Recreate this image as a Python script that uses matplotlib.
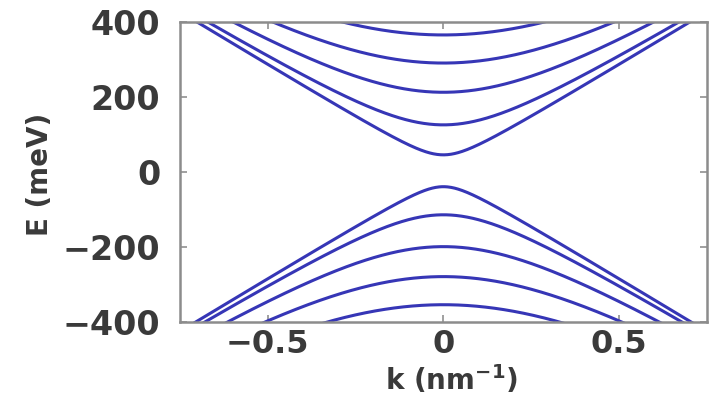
import numpy as np
import matplotlib
matplotlib.use("Agg")
import matplotlib.pyplot as plt

# subband edges at k = 0 (meV)
conduction_edges = [45, 125, 212, 290, 365]
valence_edges = [-40, -115, -200, -280, -355]
# asymptotic slope of the dispersion (meV nm)
velocity = 566

x_ticks = [-0.5, 0, 0.5]
x_tick_labels = ["\u22120.5", "0", "0.5"]
y_ticks = [-400, -200, 0, 200, 400]
y_tick_labels = ["\u2212400", "\u2212200", "0", "200", "400"]

k = np.linspace(-0.8, 0.8, 801)

fig = plt.figure(figsize=(7.14, 3.97), dpi=100)
ax = fig.add_axes([0.252, 0.19, 0.738, 0.755])

line_color = "#3636b6"
for e0 in conduction_edges:
    ax.plot(k, np.sqrt(e0 ** 2 + (velocity * k) ** 2), color=line_color, lw=2.2)
for e0 in valence_edges:
    ax.plot(k, -np.sqrt(e0 ** 2 + (velocity * k) ** 2), color=line_color, lw=2.2)

ax.set_xlim(-0.75, 0.75)
ax.set_ylim(-400, 400)

text_color = "#3a3a3a"
ax.set_xticks(x_ticks)
ax.set_xticklabels(x_tick_labels)
ax.set_yticks(y_ticks)
ax.set_yticklabels(y_tick_labels)
ax.tick_params(direction="in", length=5, width=1.2, color="#909090",
               labelsize=24, labelcolor=text_color, top=True, right=True)
ax.tick_params(axis="y", pad=14)
ax.tick_params(axis="x", labelsize=23, pad=5)
for lbl in ax.get_xticklabels() + ax.get_yticklabels():
    lbl.set_fontweight("bold")

for side in ax.spines.values():
    side.set_color("#8c8c8c")
    side.set_linewidth(1.8)

ax.set_xlabel("k (nm$^{\\mathbf{-1}}$)", fontsize=20, fontweight="bold", color=text_color)
ax.xaxis.label.set_va("center")
ax.xaxis.set_label_coords(0.516, -0.195)
ax.set_ylabel("E (meV)", fontsize=20, fontweight="bold", color=text_color)
ax.yaxis.label.set_va("center")
ax.yaxis.set_label_coords(-0.265, 0.49)

fig.savefig("out.png", dpi=100)
